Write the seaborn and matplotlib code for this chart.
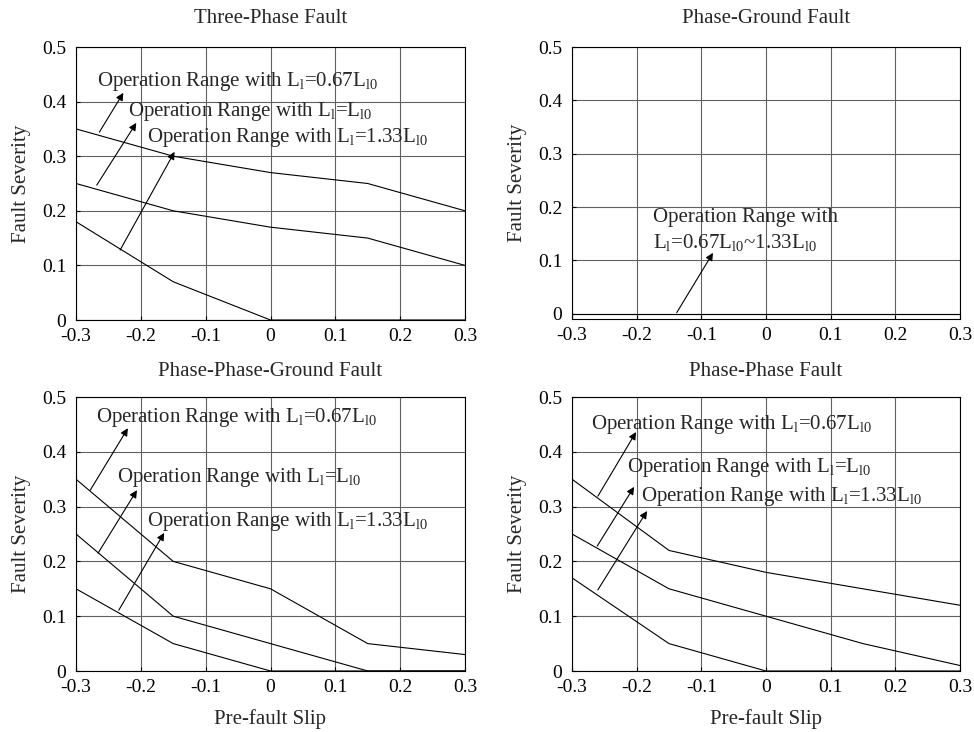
import matplotlib
matplotlib.use("Agg")
import matplotlib.pyplot as plt
import seaborn as sns
import pandas as pd
import numpy as np

# ---- data ----
slip = [-0.3, -0.15, 0.0, 0.15, 0.3]

tp_067 = [0.35, 0.30, 0.27, 0.25, 0.20]
tp_100 = [0.25, 0.20, 0.17, 0.15, 0.10]
tp_133 = [0.18, 0.07, 0.00, 0.00, 0.00]

pg_all = [0.0, 0.0, 0.0, 0.0, 0.0]

ppg_067 = [0.35, 0.20, 0.15, 0.05, 0.03]
ppg_100 = [0.25, 0.10, 0.05, 0.00, 0.00]
ppg_133 = [0.15, 0.05, 0.00, 0.00, 0.00]

pp_067 = [0.35, 0.22, 0.18, 0.15, 0.12]
pp_100 = [0.25, 0.15, 0.10, 0.05, 0.01]
pp_133 = [0.17, 0.05, 0.00, 0.00, 0.00]

titles = ["Three-Phase Fault", "Phase-Ground Fault",
          "Phase-Phase-Ground Fault", "Phase-Phase Fault"]
xticks = [-0.3, -0.2, -0.1, 0, 0.1, 0.2, 0.3]
xticklabels = ["-0.3", "-0.2", "-0.1", "0", "0.1", "0.2", "0.3"]
yticks = [0, 0.1, 0.2, 0.3, 0.4, 0.5]
yticklabels = ["0", "0.1", "0.2", "0.3", "0.4", "0.5"]

lab067 = r"Operation Range with $\mathregular{L_l}$=0.67$\mathregular{L_{l0}}$"
lab100 = r"Operation Range with $\mathregular{L_l}$=$\mathregular{L_{l0}}$"
lab133 = r"Operation Range with $\mathregular{L_l}$=1.33$\mathregular{L_{l0}}$"

sns.set_theme(style="white")
plt.rcParams['font.family'] = ['Liberation Serif', 'DejaVu Serif']
plt.rcParams['mathtext.fontset'] = 'custom'
plt.rcParams['mathtext.rm'] = 'Liberation Serif'
plt.rcParams['mathtext.it'] = 'Liberation Serif:italic'
plt.rcParams['axes.unicode_minus'] = False

fig = plt.figure(figsize=(9.74, 7.32), dpi=100)
W, H = 974, 732
def rect(l, r, t, b):
    return [l / W, 1 - b / H, (r - l) / W, (b - t) / H]

ax1 = fig.add_axes(rect(76, 465, 47, 320))
ax2 = fig.add_axes(rect(572, 960, 47, 319))
ax3 = fig.add_axes(rect(76, 465, 397, 671))
ax4 = fig.add_axes(rect(572, 960, 397, 671))
axes = [ax1, ax2, ax3, ax4]

FS_TICK = 14
FS = 15

def draw(ax, series):
    rows = []
    for name, vals in series.items():
        for x, y in zip(slip, vals):
            rows.append(dict(slip=x, sev=y, case=name))
    df = pd.DataFrame(rows)
    sns.lineplot(data=df, x="slip", y="sev", units="case", estimator=None,
                 color="black", linewidth=0.8, ax=ax, legend=False)

draw(ax1, {"0.67": tp_067, "1.00": tp_100, "1.33": tp_133})
draw(ax2, {"all": pg_all})
draw(ax3, {"0.67": ppg_067, "1.00": ppg_100, "1.33": ppg_133})
draw(ax4, {"0.67": pp_067, "1.00": pp_100, "1.33": pp_133})

for i, ax in enumerate(axes):
    ax.set_xlim(-0.3, 0.3)
    if i == 1:
        ax.set_ylim(-0.01, 0.5)
    else:
        ax.set_ylim(0, 0.5)
    ax.set_xticks(xticks)
    ax.set_xticklabels(xticklabels)
    ax.set_yticks(yticks)
    ax.set_yticklabels(yticklabels)
    ax.tick_params(length=3, direction="in", width=0.8, labelsize=FS_TICK,
                   colors="black", bottom=True, left=True)
    ax.tick_params(axis="y", pad=7)
    ax.tick_params(axis="x", pad=6)
    ax.grid(True, color="#606060", linewidth=0.8)
    ax.set_axisbelow(True)
    for s in ax.spines.values():
        s.set_visible(True)
        s.set_color("black")
        s.set_linewidth(0.8)
    ax.set_title(titles[i], fontsize=FS, pad=17 if i < 2 else 15)
    ax.set_ylabel("Fault Severity", fontsize=FS, labelpad=8)
    if i >= 2:
        ax.set_xlabel("Pre-fault Slip", fontsize=FS, labelpad=9)
    else:
        ax.set_xlabel("")

arrow = dict(arrowstyle="-|>", color="black", lw=0.8, mutation_scale=11,
             shrinkA=0, shrinkB=0)

def ann(ax, text, tpos, tail, head):
    ax.text(tpos[0], tpos[1], text, fontsize=FS, va="center", ha="left")
    ax.annotate("", xy=head, xytext=tail, arrowprops=arrow)

ann(ax1, lab067, (-0.268, 0.436), (-0.264, 0.344), (-0.227, 0.416))
ann(ax1, lab100, (-0.220, 0.381), (-0.268, 0.247), (-0.207, 0.361))
ann(ax1, lab133, (-0.190, 0.335), (-0.232, 0.128), (-0.148, 0.308))

ax2.text(-0.175, 0.180, "Operation Range with", fontsize=FS, va="center", ha="left")
ax2.text(-0.175, 0.133,
         r"$\mathregular{L_l}$=0.67$\mathregular{L_{l0}}$~1.33$\mathregular{L_{l0}}$",
         fontsize=FS, va="center", ha="left")
ax2.annotate("", xy=(-0.082, 0.114), xytext=(-0.138, 0.002), arrowprops=arrow)

ann(ax3, lab067, (-0.269, 0.462), (-0.278, 0.330), (-0.220, 0.443))
ann(ax3, lab100, (-0.237, 0.354), (-0.266, 0.215), (-0.206, 0.330))
ann(ax3, lab133, (-0.190, 0.272), (-0.234, 0.111), (-0.164, 0.252))

ann(ax4, lab067, (-0.271, 0.449), (-0.260, 0.319), (-0.201, 0.436))
ann(ax4, lab100, (-0.215, 0.372), (-0.261, 0.228), (-0.204, 0.336))
ann(ax4, lab133, (-0.193, 0.319), (-0.260, 0.148), (-0.184, 0.292))

fig.savefig("out.png", dpi=100, facecolor="white")
